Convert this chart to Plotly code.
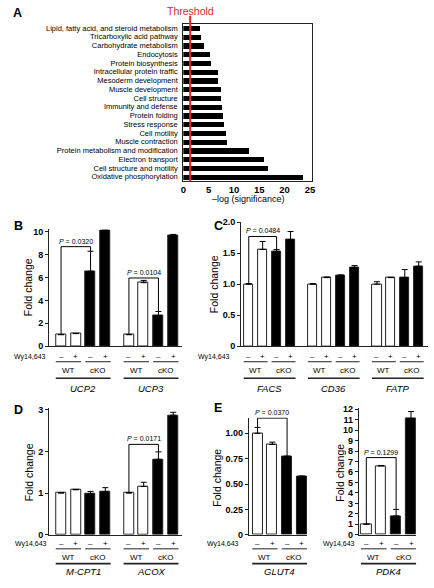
import plotly.graph_objects as go

W, H = 434, 588
FONT = "Liberation Sans, Arial, Helvetica, sans-serif"

# ---------------- data ----------------
pathways = ["Lipid, fatty acid, and steroid metabolism", "Tricarboxylic acid pathway",
            "Carbohydrate metabolism", "Endocytosis", "Protein biosynthesis",
            "Intracellular protein traffic", "Mesoderm development", "Muscle development",
            "Cell structure", "Immunity and defense", "Protein folding", "Stress response",
            "Cell motility", "Muscle contraction", "Protein metabolism and modification",
            "Electron transport", "Cell structure and motility", "Oxidative phosphorylation"]
neglog_sig = [3.44, 3.5, 4.15, 5.38, 5.58, 6.94, 7.0, 7.46, 7.46, 7.78, 7.98, 8.17, 8.5, 8.75,
              13.0, 16.0, 16.8, 23.7]
threshold = 1.35
a_ticks = [0, 5, 10, 15, 20, 25]

wy_signs = ["–", "+", "–", "+"]
genotypes = ["WT", "cKO"]

b_genes = ["UCP2", "UCP3"]
b_mean = [1.0, 1.1, 6.55, 10.1, 1.0, 5.55, 2.68, 9.65]
b_err = [0.02, 0.02, 1.75, 0.06, 0.02, 0.2, 0.35, 0.12]
b_ticks = [0, 2, 4, 6, 8, 10]
b_pvals = [("0.0320", 0, 2, 8.7), ("0.0104", 4, 6, 5.96)]

c_genes = ["FACS", "CD36", "FATP"]
c_mean = [1.0, 1.56, 1.53, 1.72, 1.0, 1.106, 1.14, 1.27, 1.0, 1.106, 1.106, 1.29]
c_err = [0.01, 0.13, 0.03, 0.13, 0.01, 0.01, 0.01, 0.03, 0.04, 0.005, 0.13, 0.07]
c_ticks = [0, 0.5, 1.0, 1.5, 2.0]
c_pvals = [("0.0484", 0, 2, 1.77)]

d_genes = ["M-CPT1", "ACOX"]
d_mean = [1.0, 1.08, 0.98, 1.03, 1.0, 1.16, 1.81, 2.87]
d_err = [0.01, 0.01, 0.06, 0.1, 0.01, 0.1, 0.18, 0.07]
d_ticks = [0, 1, 2, 3]
d_pvals = [("0.0171", 4, 6, 2.17)]

e1_genes = ["GLUT4"]
e1_mean = [1.0, 0.89, 0.767, 0.575]
e1_err = [0.058, 0.023, 0.008, 0.004]
e1_ticks = [0, 0.25, 0.5, 0.75, 1.0]
e1_tickt = ["0", "0.25", "0.50", "0.75", "1.00"]
e1_pvals = [("0.0370", 0, 2, 1.15)]

e2_genes = ["PDK4"]
e2_mean = [1.0, 6.57, 1.79, 11.07]
e2_err = [0.02, 0.05, 0.63, 0.7]
e2_ticks = list(range(0, 13))
e2_pvals = [("0.1299", 0, 2, 7.37)]


# ---------------- helpers ----------------
def px(x):
    return x / W


def py(y):
    return 1 - y / H


def positions(ngroups):
    out = []
    for g in range(ngroups):
        out += [g * 4.6 + k for k in range(4)]
    return out


def ann(text, x, y, xref="paper", yref="paper", size=8, color="black", xanchor="center",
        yanchor="middle", **kw):
    d = dict(text=text, x=x, y=y, xref=xref, yref=yref, showarrow=False,
             xanchor=xanchor, yanchor=yanchor,
             font=dict(size=size, family=FONT, color=color))
    d.update(kw)
    return d


fig = go.Figure()
annotations = []
shapes = []

# ---------------- Panel A ----------------
fig.add_trace(go.Bar(y=pathways, x=neglog_sig, orientation="h", width=0.6,
                     marker=dict(color="black", line=dict(width=0)),
                     xaxis="x", yaxis="y", showlegend=False))
shapes.append(dict(type="line", xref="x", yref="paper", x0=threshold, x1=threshold,
                   y0=py(180), y1=py(12), line=dict(color="#e0262b", width=2), layer="above"))
annotations.append(ann("Threshold", threshold, py(7), xref="x", size=10.5, color="#e0262b"))
annotations.append(ann("–log (significance)", px(250), py(198), size=9))

layout_axes = {
    "xaxis": dict(domain=[px(183.3), px(314)], anchor="y", range=[0, 25.4], tickvals=a_ticks,
                  showline=True, mirror=True, linecolor="#222", linewidth=1.2, ticks="",
                  showgrid=False, zeroline=False, ticklabelstandoff=-1,
                  tickfont=dict(size=9.5, family=FONT, color="black", weight="bold")),
    "yaxis": dict(domain=[py(180), py(20)], anchor="x", type="category",
                  categoryorder="array", categoryarray=pathways, range=[17.5, -0.5],
                  tickmode="array", tickvals=pathways,
                  showline=True, mirror=True, linecolor="#222", linewidth=1.2, ticks="",
                  ticklabelstandoff=3, showgrid=False, zeroline=False,
                  tickfont=dict(size=7.5, family=FONT, color="black")),
}


# ---------------- bar panels ----------------
def bar_panel(idx, genes, mean, err, ticks, ticktext, pvals, xdom, ydom, xrange, yrange,
              rowy, wy_x, title_xy):
    xa, ya = "x%d" % idx, "y%d" % idx
    n = len(mean)
    pos = positions(len(genes))
    colors = ["white", "white", "black", "black"] * len(genes)
    fig.add_trace(go.Bar(x=pos, y=mean, width=0.68, xaxis=xa, yaxis=ya, showlegend=False,
                         marker=dict(color=colors, line=dict(color="#222", width=1)),
                         error_y=dict(type="data", symmetric=False, array=err,
                                      arrayminus=[0] * n, color="black", thickness=1, width=3)))
    for (p, i, j, lev) in pvals:
        top_i = mean[i] + err[i]
        top_j = mean[j] + err[j]
        fig.add_trace(go.Scatter(x=[pos[i], pos[i], pos[j], pos[j]], y=[top_i, lev, lev, top_j],
                                 mode="lines", line=dict(color="black", width=1),
                                 xaxis=xa, yaxis=ya, showlegend=False, hoverinfo="skip"))
        annotations.append(ann("<i>P</i> = " + p, (pos[i] + pos[j]) / 2, lev, xref=xa, yref=ya,
                               size=7, yanchor="bottom", yshift=0))
    layout_axes["xaxis%d" % idx] = dict(domain=[px(xdom[0]), px(xdom[1])], anchor=ya,
                                        range=xrange, showline=True, linecolor="#222",
                                        linewidth=1.2, showticklabels=False, ticks="",
                                        showgrid=False, zeroline=False)
    layout_axes["yaxis%d" % idx] = dict(domain=[py(ydom[1]), py(ydom[0])], anchor=xa,
                                        range=yrange, tickvals=ticks, ticktext=ticktext,
                                        showline=True, linecolor="#222", linewidth=1.2,
                                        ticks="outside", ticklen=3, tickcolor="#222",
                                        showgrid=False, zeroline=False,
                                        tickfont=dict(size=9, family=FONT, color="black",
                                                      weight="bold"))
    sign_y, l1_y, geno_y, l2_y, gene_y = rowy
    annotations.append(ann("Wy14,643", px(wy_x), py(sign_y), size=7, xanchor="right"))
    hw = 0.36
    for k in range(n):
        annotations.append(ann(wy_signs[k % 4], pos[k], py(sign_y), xref=xa, size=8))
    for g, gene in enumerate(genes):
        for h, geno in enumerate(genotypes):
            a, b = pos[4 * g + 2 * h], pos[4 * g + 2 * h + 1]
            shapes.append(dict(type="line", xref=xa, yref="paper", x0=a - hw, x1=b + hw,
                               y0=py(l1_y), y1=py(l1_y), line=dict(color="#222", width=1)))
            annotations.append(ann(geno, (a + b) / 2, py(geno_y), xref=xa, size=8))
        a, b = pos[4 * g], pos[4 * g + 3]
        shapes.append(dict(type="line", xref=xa, yref="paper", x0=a - hw, x1=b + hw,
                           y0=py(l2_y), y1=py(l2_y), line=dict(color="#222", width=1.6)))
        annotations.append(ann("<i>%s</i>" % gene, (a + b) / 2, py(gene_y), xref=xa, size=9.5))
    annotations.append(ann("Fold change", px(title_xy[0]), py(title_xy[1]), size=10.5,
                           textangle=-90))


row1 = (358.3, 363.3, 372.7, 380, 390)
row2 = (548.3, 553.3, 561.7, 568.3, 576.7)

bar_panel(2, b_genes, b_mean, b_err, b_ticks, [str(t) for t in b_ticks], b_pvals,
          (47, 182), (229, 347.5), [-0.8, 8.2], [0, 10.2], row1, 46, (25, 288))
bar_panel(3, c_genes, c_mean, c_err, c_ticks, ["0", "0.5", "1.0", "1.5", "2.0"], c_pvals,
          (242, 432), (221, 347.5), [-0.55, 12.87], [0, 2.01], row1, 233, (214, 285))
bar_panel(4, d_genes, d_mean, d_err, d_ticks, [str(t) for t in d_ticks], d_pvals,
          (47, 182), (410, 539), [-0.8, 8.2], [0, 3.05], row2, 47, (26, 476))
bar_panel(5, e1_genes, e1_mean, e1_err, e1_ticks, e1_tickt, e1_pvals,
          (250, 309), (420, 539), [-0.58, 3.35], [0, 1.155], row2, 242, (217.5, 481))
bar_panel(6, e2_genes, e2_mean, e2_err, e2_ticks, [str(t) for t in e2_ticks], e2_pvals,
          (361.7, 420), (410.7, 539), [-0.5, 3.35], [0, 12.07], row2, 360, (342.5, 476))

# panel letters
for letter, x, y in [("A", 15, 9), ("B", 16, 225), ("C", 219, 225), ("D", 16, 412),
                     ("E", 219, 410)]:
    annotations.append(ann("<b>%s</b>" % letter, px(x), py(y), size=12.5))

fig.update_layout(width=W, height=H, margin=dict(l=0, r=0, t=0, b=0),
                  paper_bgcolor="white", plot_bgcolor="white", bargap=0,
                  annotations=annotations, shapes=shapes, showlegend=False,
                  font=dict(family=FONT, color="black"), **layout_axes)

fig.write_html("out.html", config={"displayModeBar": False},
               post_script="document.body.style.margin='0px';")
